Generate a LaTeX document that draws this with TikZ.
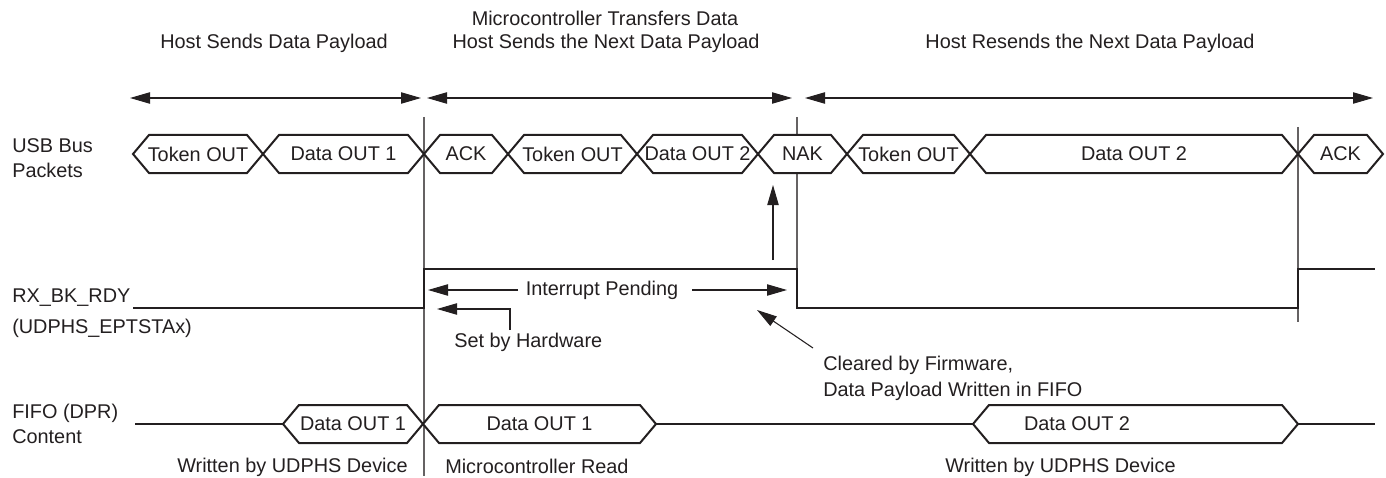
\documentclass[tikz,border=0pt]{standalone}
\usepackage{fontspec}
\setmainfont{Liberation Sans}
\usetikzlibrary{arrows.meta}
\definecolor{ink}{HTML}{231F20}
\newcommand{\hexpkt}[5]{%
  \draw[pkt] (#1,#3) -- ++(16,-19) -- (#2-16,#3-19) -- (#2,#3) -- (#2-16,#3+19) -- (#1+16,#3+19) -- cycle;
  \node[txt] (#5) at ({(#1+#2)/2},#3) {#4};}
\begin{document}
\begin{tikzpicture}[x=0.75pt,y=-0.75pt,
  txt/.style={inner sep=0pt,text=ink,font=\fontsize{14.9pt}{17.5pt}\selectfont},
  ltxt/.style={txt,anchor=west},
  pkt/.style={draw=ink,fill=white,line width=1.5pt,line join=miter},
  sig/.style={draw=ink,line width=1.5pt,line join=miter},
  guide/.style={draw=ink!70,line width=0.8pt},
  arr/.style={draw=ink,line width=0.8pt,-{Triangle[length=15pt,width=8.5pt]}},
  darr/.style={draw=ink,line width=0.8pt,{Triangle[length=15pt,width=8.5pt]}-{Triangle[length=15pt,width=8.5pt]}}]
\useasboundingbox (0,0) rectangle (1386,478);
% header texts
\node[txt] (h1) at (274,43) {Host Sends Data Payload};
\node[txt] (h2a) at (605,18) {Microcontroller Transfers Data};
\node[txt] (h2b) at (606,43) {Host Sends the Next Data Payload};
\node[txt] (h3) at (1090,43) {Host Resends the Next Data Payload};
% phase arrows
\coordinate (p1a) at (130,98); \coordinate (p1b) at (421,98);
\coordinate (p2a) at (427,98); \coordinate (p2b) at (792,98);
\coordinate (p3a) at (805,98); \coordinate (p3b) at (1373,98);
\draw[darr] (p1a) -- (p1b);
\draw[darr] (p2a) -- (p2b);
\draw[darr] (p3a) -- (p3b);
% guide lines
\coordinate (g1t) at (424,117); \coordinate (g1b) at (424,476);
\coordinate (g2t) at (797,117); \coordinate (g2b) at (797,308);
\coordinate (g3t) at (1298,127); \coordinate (g3b) at (1298,322);
\draw[guide] (g1t) -- (g1b);
\draw[guide] (g2t) -- (g2b);
\draw[guide] (g3t) -- (g3b);
% row labels
\node[ltxt] (l1a) at (12,146) {USB Bus};
\node[ltxt] (l1b) at (12,170) {Packets};
\node[ltxt] (l2a) at (12,298) {RX\_BK\_RDY};
\node[ltxt] (l2b) at (12,328) {(UDPHS\_EPTSTAx)};
\node[ltxt] (l3a) at (12,413) {FIFO (DPR)};
\node[ltxt] (l3b) at (12,437) {Content};
% USB packets
\hexpkt{133}{263}{154}{Token OUT}{k1}
\hexpkt{263}{424}{154}{Data OUT 1}{k2}
\hexpkt{424}{508}{154}{ACK}{k3}
\hexpkt{508}{637}{154}{Token OUT}{k4}
\hexpkt{637}{758}{154}{Data OUT 2}{k5}
\hexpkt{758}{847}{154}{NAK}{k6}
\hexpkt{847}{970}{154}{Token OUT}{k7}
\hexpkt{970}{1298}{154}{Data OUT 2}{k8}
\hexpkt{1298}{1383}{154}{ACK}{k9}
% RX_BK_RDY signal
\draw[sig] (133,308) -- (424,308) -- (424,269) -- (797,269) -- (797,308) -- (1298,308) -- (1298,269) -- (1375,269);
% annotations
\coordinate (ua) at (773,260); \coordinate (ub) at (773,185);
\draw[arr] (ua) -- (ub);
\node[txt] (ip) at (602,290) {Interrupt Pending};
\coordinate (ipw) at (518,290); \coordinate (ipl) at (428,290);
\coordinate (ipe) at (692,290); \coordinate (ipr) at (787,290);
\draw[arr] (ipw) -- (ipl);
\draw[arr] (ipe) -- (ipr);
\coordinate (sh1) at (510,330); \coordinate (sh2) at (510,309); \coordinate (sh3) at (437,309);
\draw[arr] (sh1) -- (sh2) -- (sh3);
\node[ltxt] (sbh) at (454,342) {Set by Hardware};
\coordinate (cf1) at (813,348); \coordinate (cf2) at (757,310);
\draw[arr] (cf1) -- (cf2);
\node[ltxt] (cbf) at (823,365) {Cleared by Firmware,};
\node[ltxt] (dpw) at (823,391) {Data Payload Written in FIFO};
% FIFO row
\coordinate (f0) at (135,424); \coordinate (f1) at (283,424);
\coordinate (f2) at (656,424); \coordinate (f3) at (973,424);
\coordinate (f4) at (1298,424); \coordinate (f5) at (1375,424);
\draw[sig] (f0) -- (f1);
\draw[sig] (f2) -- (f3);
\draw[sig] (f4) -- (f5);
\hexpkt{283}{423}{424}{Data OUT 1}{d1}
\hexpkt{423}{656}{424}{Data OUT 1}{d2}
\draw[pkt] (973,424) -- ++(16,-19) -- (1282,405) -- (1298,424) -- (1282,443) -- (989,443) -- cycle;
\node[txt] (d3) at (1077,424) {Data OUT 2};
\node[ltxt] (w1) at (177,467) {Written by UDPHS Device};
\node[ltxt] (mr) at (445,466) {Microcontroller Read};
\node[ltxt] (w2) at (945,467) {Written by UDPHS Device};
\end{tikzpicture}
\end{document}
